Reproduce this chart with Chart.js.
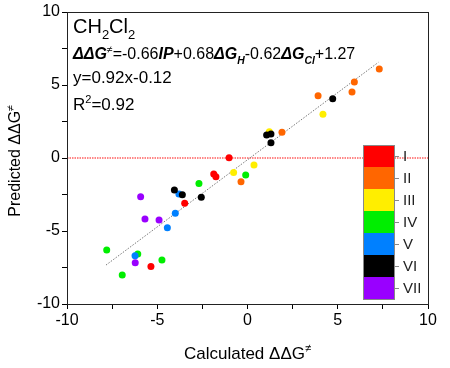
<!DOCTYPE html>
<html>
<head>
<meta charset="utf-8">
<script src="https://cdn.jsdelivr.net/npm/chart.js@4.4.1/dist/chart.umd.min.js"></script>
<style>
  html, body { margin: 0; padding: 0; background: #fff; }
  #wrap { width: 450px; height: 368px; }
</style>
</head>
<body>
<div id="wrap"><canvas id="chart" width="450" height="368"></canvas></div>
<script>
// groups and their points (calculated, predicted)
const groups = ['I', 'II', 'III', 'IV', 'V', 'VI', 'VII'];
const calcI = [-1.02, -1.87, -1.75, -3.48, -5.35];
const predI = [0.02, -1.10, -1.28, -3.10, -7.44];
const calcII = [-0.36, 1.91, 3.91, 5.79, 5.92, 7.30];
const predII = [-1.62, 1.76, 4.27, 4.52, 5.21, 6.10];
const calcIII = [-0.77, 0.36, 1.21, 4.18];
const predIII = [-1.00, -0.48, 1.80, 2.99];
const calcIV = [-7.80, -6.94, -6.08, -4.74, -2.69, -0.10];
const predIV = [-6.30, -8.01, -6.58, -6.99, -1.74, -1.16];
const calcV = [-6.23, -4.44, -4.00, -3.80];
const predV = [-6.69, -4.77, -3.79, -2.47];
const calcVI = [-4.05, -3.61, -2.56, 1.06, 1.30, 1.30, 4.72];
const predVI = [-2.19, -2.51, -2.69, 1.58, 1.64, 1.05, 4.06];
const calcVII = [-6.22, -5.92, -5.68, -4.90];
const predVII = [-7.17, -2.65, -4.18, -4.25];

const calcAll = [calcI, calcII, calcIII, calcIV, calcV, calcVI, calcVII];
const predAll = [predI, predII, predIII, predIV, predV, predVI, predVII];

// linear fit reported on the figure
const fitSlope = 0.92;
const fitIntercept = -0.12;
const fitRange = [-7.84, 7.25];

const xTicks = [-10, -5, 0, 5, 10];
const yTicks = [-10, -5, 0, 5, 10];

const groupColors = ['#ff0000', '#ff6600', '#ffee00', '#00ee00', '#0080ff', '#000000', '#9900ff'];
const FONT = "'Liberation Sans', Arial, sans-serif";

const datasets = groups.map((g, i) => ({
    type: 'scatter',
    label: g,
    data: calcAll[i].map((x, j) => ({ x: x, y: predAll[i][j] })),
    backgroundColor: groupColors[i],
    borderWidth: 0,
    pointRadius: 3.5,
    order: groups.length - i
}));

datasets.push({
    type: 'line',
    label: 'fit',
    data: fitRange.map(x => ({ x: x, y: fitSlope * x + fitIntercept })),
    borderColor: '#777',
    borderWidth: 1,
    borderDash: [1.5, 1.5],
    pointRadius: 0,
    order: 20
});
datasets.push({
    type: 'line',
    label: 'zero',
    data: [{ x: -10, y: 0 }, { x: 10, y: 0 }],
    borderColor: 'rgba(255,40,40,0.75)',
    borderWidth: 1.5,
    borderDash: [1.5, 1],
    pointRadius: 0,
    order: 21
});

// draw a run of text pieces: [text, style, shift]
function drawRuns(ctx, x, y, runs, size) {
    runs.forEach(r => {
        const sub = r[2] || 0;
        const s = sub ? size * 0.65 : size;
        ctx.font = (r[1] || '') + ' ' + s + 'px ' + FONT;
        ctx.fillText(r[0], x, y + sub * size);
        x += ctx.measureText(r[0]).width;
    });
}

const extras = {
    id: 'extras',
    afterDraw(chart) {
        const ctx = chart.ctx;
        const a = chart.chartArea;
        ctx.save();
        // frame
        ctx.strokeStyle = '#222';
        ctx.lineWidth = 1;
        ctx.strokeRect(a.left + 0.5, a.top + 0.5, a.right - a.left, a.bottom - a.top);

        ctx.fillStyle = '#000';
        ctx.textBaseline = 'alphabetic';
        ctx.textAlign = 'left';
        const tx = a.left + 6;
        drawRuns(ctx, tx, 33, [['CH'], ['2', '', 0.3], ['Cl'], ['2', '', 0.3]], 20);
        drawRuns(ctx, tx, 59, [
            ['ΔΔG', 'italic bold'], ['≠', '', -0.4], ['=-0.66'], ['IP', 'italic bold'],
            ['+0.68'], ['ΔG', 'italic bold'], ['H', 'italic bold', 0.3], ['-0.62'],
            ['ΔG', 'italic bold'], ['Cl', 'italic bold', 0.3], ['+1.27']
        ], 16);
        drawRuns(ctx, tx, 83, [['y=0.92x-0.12']], 17);
        drawRuns(ctx, tx, 110, [['R'], ['2', '', -0.4], ['=0.92']], 17);

        // axis titles
        ctx.save();
        ctx.translate(20, 161);
        ctx.rotate(-Math.PI / 2);
        ctx.font = '16px ' + FONT;
        let w = ctx.measureText('Predicted ΔΔG').width;
        ctx.font = '10px ' + FONT;
        w += ctx.measureText('≠').width;
        drawRuns(ctx, -w / 2, 0, [['Predicted ΔΔG'], ['≠', '', -0.4]], 16);
        ctx.restore();

        ctx.font = '17px ' + FONT;
        let wx = ctx.measureText('Calculated ΔΔG').width;
        ctx.font = '11px ' + FONT;
        wx += ctx.measureText('≠').width;
        drawRuns(ctx, (a.left + a.right) / 2 - wx / 2, 359, [['Calculated ΔΔG'], ['≠', '', -0.4]], 17);

        // colour key
        const kx = 363, ky = 145, kw = 31, kh = 22;
        groups.forEach((g, i) => {
            ctx.fillStyle = groupColors[i];
            ctx.fillRect(kx, ky + i * kh, kw, kh);
        });
        ctx.strokeStyle = '#888';
        ctx.strokeRect(kx + 0.5, ky + 0.5, kw, kh * groups.length);
        ctx.font = '15px ' + FONT;
        ctx.textBaseline = 'middle';
        groups.forEach((g, i) => {
            const cy = ky + i * kh + kh / 2;
            ctx.beginPath();
            ctx.moveTo(kx + kw, cy + 0.5);
            ctx.lineTo(kx + kw + 5, cy + 0.5);
            ctx.stroke();
            ctx.fillStyle = '#222';
            ctx.fillText(g, kx + kw + 9, cy + 1);
        });
        ctx.restore();
    }
};

new Chart(document.getElementById('chart'), {
    data: { datasets: datasets },
    options: {
        responsive: false,
        animation: false,
        layout: { padding: { left: 0, right: 22, top: 12, bottom: 0 } },
        plugins: { legend: { display: false }, tooltip: { enabled: false } },
        scales: {
            x: {
                type: 'linear',
                min: -10, max: 10,
                afterFit: s => { s.height = 64; },
                afterBuildTicks: s => { s.ticks = [-10, -7.5, -5, -2.5, 0, 2.5, 5, 7.5, 10].map(v => ({ value: v })); },
                ticks: {
                    color: '#000',
                    font: { family: FONT, size: 16 },
                    padding: 2,
                    maxRotation: 0,
                    callback: v => xTicks.includes(v) ? v : ''
                },
                grid: { drawOnChartArea: false, tickLength: 5, color: '#000' },
                border: { color: '#000' }
            },
            y: {
                type: 'linear',
                min: -10, max: 10,
                afterFit: s => { s.width = 67; },
                afterBuildTicks: s => { s.ticks = [-10, -7.5, -5, -2.5, 0, 2.5, 5, 7.5, 10].map(v => ({ value: v })); },
                ticks: {
                    color: '#000',
                    font: { family: FONT, size: 16 },
                    padding: 2,
                    callback: v => yTicks.includes(v) ? v : ''
                },
                grid: { drawOnChartArea: false, tickLength: 5, color: '#000' },
                border: { color: '#000' }
            }
        }
    },
    plugins: [extras]
});
</script>
</body>
</html>
